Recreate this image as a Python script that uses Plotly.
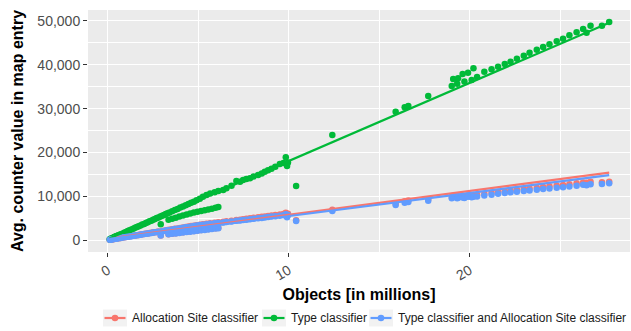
import plotly.graph_objects as go

# ---------------- data ----------------
type_x = [0.10, 0.12, 0.15, 0.18, 0.20, 0.25, 0.30, 0.35, 0.40, 0.45, 0.50, 0.55, 0.60, 0.70, 0.80,
          0.90, 1.00, 1.10, 1.20, 1.30, 1.40, 1.50, 1.60, 1.70, 1.80, 1.90, 2.00, 2.10, 2.20,
          2.30, 2.40, 2.50, 2.60, 2.70, 2.80, 2.90, 2.92, 3.00, 3.10, 3.20, 3.30, 3.40, 3.55,
          3.70, 3.85, 4.00, 4.15, 4.30, 4.45, 4.60, 4.75, 4.90, 5.08, 5.25, 5.45, 5.65, 5.90,
          6.10, 6.37, 6.55, 6.83, 7.10, 7.30, 7.47, 7.65, 7.85, 8.05, 8.30, 8.50, 8.67, 8.85,
          9.04, 9.25, 9.50, 9.70, 9.83, 9.90, 9.95, 10.40, 12.40, 15.90, 16.40, 16.60, 17.70,
          19.00, 19.08, 19.30, 19.35, 19.60, 19.70, 19.90, 20.10, 20.20, 20.40, 20.80, 21.20,
          21.56, 21.93, 22.25, 22.60, 22.98, 23.30, 23.70, 24.05, 24.40, 24.80, 25.15, 25.50,
          25.90, 26.26, 26.45, 26.67, 27.30, 27.70,
          3.35, 3.55, 3.75, 3.95, 4.15, 4.35, 4.55, 4.75, 4.95, 5.15, 5.35, 5.55, 5.75, 5.95, 6.10]
type_y = [180, 120, 270, 300, 350, 480, 540, 660, 720, 850, 900, 1020, 1100, 1300, 1450,
          1680, 1820, 2050, 2200, 2420, 2580, 2800, 2950, 3150, 3300, 3520, 3680, 3900, 4050,
          4280, 4400, 4650, 4800, 5000, 5150, 5350, 3600, 5550, 5700, 5920, 6100, 6300, 6550,
          6850, 7100, 7400, 7650, 7950, 8200, 8500, 8750, 9050, 9400, 9900, 10270, 10600, 10880,
          11200, 11400, 11800, 12400, 13470, 13300, 13700, 13900, 14080, 14500, 14840, 15200, 15600, 15900,
          16280, 16700, 17350, 17600, 18880, 16890, 17700, 12330, 23970, 29300, 30300, 30590, 32870,
          35160, 36760, 35700, 36900, 37900, 36200, 38200, 36530, 39200, 37200, 38400, 39000,
          39570, 40180, 40700, 41390, 42080, 42770, 43450, 44060, 44670, 45360, 45950, 46720,
          47410, 48170, 47330, 48930, 48930, 49770,
          4600, 4850, 5100, 5350, 5600, 5850, 6050, 6250, 6450, 6600, 6800, 6950, 7150, 7350, 7550]

alloc_x = [0.10, 0.15, 0.20, 0.25, 0.30, 0.35, 0.40, 0.45, 0.50, 0.60, 0.70, 0.80, 0.90, 1.00,
           1.10, 1.20, 1.30, 1.40, 1.50, 1.60, 1.70, 1.80, 1.90, 2.00, 2.10, 2.20, 2.30, 2.40,
           2.50, 2.60, 2.70, 2.80, 2.92, 3.00, 3.10, 3.20, 3.30, 3.40, 3.55, 3.70, 3.85, 4.00,
           4.15, 4.30, 4.45, 4.60, 4.75, 4.90, 5.08, 5.25, 5.45, 5.65, 5.90, 6.10, 6.37, 6.55,
           6.83, 7.10, 7.30, 7.47, 7.65, 7.85, 8.05, 8.30, 8.50, 8.67, 8.85, 9.04, 9.25, 9.50,
           9.70, 9.83, 9.90, 9.95, 10.40, 12.40, 15.90, 16.40, 16.60, 17.70, 19.00, 19.08, 19.30,
           19.35, 19.60, 19.70, 19.90, 20.10, 20.20, 20.40, 20.80, 21.20, 21.56, 21.93, 22.25,
           22.60, 22.98, 23.30, 23.70, 24.05, 24.40, 24.80, 25.15, 25.50, 25.90, 26.26, 26.45,
           26.67, 27.30, 27.70,
           3.35, 3.55, 3.75, 3.95, 4.15, 4.35, 4.55, 4.75, 4.95, 5.15, 5.35, 5.55, 5.75, 5.95, 6.10]
both_y = [60, 90, 140, 170, 210, 240, 280, 300, 350, 420, 480, 550, 620, 680,
          750, 820, 880, 950, 1020, 1090, 1150, 1220, 1290, 1350, 1420, 1490, 1550, 1620,
          1690, 1750, 1820, 1890, 1000, 2020, 2080, 2150, 2220, 2290, 2390, 2490, 2590, 2690,
          2790, 2890, 2990, 3090, 3190, 3290, 3400, 3500, 3600, 3700, 3800, 3900, 4000, 4100,
          4250, 4400, 4450, 4550, 4650, 4750, 4850, 4950, 5050, 5150, 5250, 5350, 5450, 5550,
          5650, 5900, 5180, 5700, 4340, 6620, 7990, 8520, 8680, 8980, 9510, 9740, 9550,
          9620, 9700, 9600, 9850, 9780, 9900, 9950, 10150, 10350, 10550, 10720, 10880,
          11030, 11180, 11300, 11460, 11620, 11750, 11920, 12060, 12200, 12400, 12600, 12500,
          12720, 12790, 12940,
          1300, 1400, 1500, 1600, 1700, 1800, 1900, 2000, 2100, 2200, 2300, 2400, 2500, 2600, 2700]
alloc_y = [60, 90, 140, 170, 210, 240, 280, 300, 350, 420, 480, 550, 620, 690,
           760, 830, 890, 960, 1030, 1100, 1160, 1230, 1300, 1370, 1440, 1510, 1570, 1640,
           1710, 1780, 1850, 1920, 1020, 2060, 2120, 2190, 2260, 2340, 2440, 2540, 2640, 2750,
           2850, 2960, 3060, 3170, 3270, 3380, 3500, 3600, 3720, 3830, 3940, 4040, 4160, 4270,
           4420, 4580, 4640, 4750, 4850, 4960, 5070, 5180, 5290, 5390, 5500, 5610, 5720, 5830,
           5940, 6240, 5420, 6000, 4520, 6900, 8300, 8850, 9020, 9330, 9850, 10080, 9900,
           9970, 10060, 9960, 10220, 10150, 10280, 10340, 10550, 10760, 10970, 11150, 11320,
           11480, 11640, 11770, 11940, 12110, 12250, 12430, 12580, 12730, 12940, 13150, 13050,
           13280, 13200, 13300,
           1340, 1440, 1550, 1650, 1760, 1860, 1970, 2070, 2180, 2280, 2390, 2490, 2600, 2700, 2810]

# linear-fit lines (start / end values)
fit_x = [0.10, 27.70]
alloc_fit = [400, 15400]
type_fit = [380, 49600]
both_fit = [250, 14800]

names = ["Allocation Site classifier", "Type classifier",
         "Type classifier and Allocation Site classifier"]
colors = ["#F8766D", "#00BA38", "#619CFF"]

# ---------------- figure ----------------
W, H = 631, 331
ML, MR, MT, MB = 88, 1, 10, 79
PW, PH = W - ML - MR, H - MT - MB


def px2paper_x(px):
    return (px - ML) / PW


def px2paper_y(py):
    return (H - MB - py) / PH


fig = go.Figure()
pts = [(alloc_x, alloc_y), (type_x, type_y), (alloc_x, both_y)]
fits = [alloc_fit, type_fit, both_fit]
for (xs, ys), c in zip(pts, colors):
    fig.add_trace(go.Scatter(x=xs, y=ys, mode="markers", showlegend=False,
                             marker=dict(color=c, size=6.5, line=dict(width=0)),
                             hoverinfo="skip"))
for fy, c in zip(fits, colors):
    fig.add_trace(go.Scatter(x=fit_x, y=fy, mode="lines", showlegend=False,
                             line=dict(color=c, width=2.2), hoverinfo="skip"))

# legend drawn as keys + text (ggplot style, one row below the x title)
key_left = [103, 262, 369]
key_w, key_h, leg_y = 24, 17, 318
shapes, annos = [], []
for kx, n, c in zip(key_left, names, colors):
    x0, x1 = px2paper_x(kx), px2paper_x(kx + key_w)
    y0, y1 = px2paper_y(leg_y + key_h / 2), px2paper_y(leg_y - key_h / 2)
    ym = px2paper_y(leg_y)
    shapes.append(dict(type="rect", xref="paper", yref="paper", x0=x0, x1=x1, y0=y0, y1=y1,
                       fillcolor="#F2F2F2", line=dict(width=0), layer="below"))
    shapes.append(dict(type="line", xref="paper", yref="paper", x0=x0 + 1.5 / PW, x1=x1 - 1.5 / PW,
                       y0=ym, y1=ym, line=dict(color=c, width=2.2)))
    shapes.append(dict(type="circle", xref="paper", yref="paper",
                       xsizemode="pixel", ysizemode="pixel",
                       xanchor=(x0 + x1) / 2, yanchor=ym, x0=-3.3, x1=3.3, y0=-3.3, y1=3.3,
                       fillcolor=c, line=dict(width=0)))
    annos.append(dict(text=n, xref="paper", yref="paper", x=px2paper_x(kx + key_w + 3), y=ym,
                      xanchor="left", yanchor="middle", showarrow=False,
                      font=dict(size=12, color="#1A1A1A")))

axis_common = dict(showgrid=True, gridcolor="white", gridwidth=1.1, zeroline=False,
                   showline=False, ticks="outside", ticklen=4, tickcolor="#333333",
                   tickwidth=1.1, automargin=False,
                   tickfont=dict(family="Liberation Sans, Arial, sans-serif", size=14,
                                 color="#4D4D4D"))

fig.update_layout(
    width=W, height=H,
    margin=dict(l=ML, r=MR, t=MT, b=MB),
    paper_bgcolor="white", plot_bgcolor="#EBEBEB",
    font=dict(family="Liberation Sans, Arial, sans-serif", color="#000000"),
    xaxis=dict(range=[-1.1, 28.85], tickmode="array", tickvals=[0, 10, 20],
               ticktext=["0", "10", "20"], tickangle=-30,
               minor=dict(tickmode="array", tickvals=[5, 15, 25], showgrid=True,
                          gridcolor="white", gridwidth=0.55, ticks=""),
               title=dict(text="<b>Objects [in millions]</b>", standoff=6,
                          font=dict(size=16, color="#000000")),
               **axis_common),
    yaxis=dict(range=[-2740, 52510], tickmode="array",
               tickvals=[0, 10000, 20000, 30000, 40000, 50000],
               ticktext=["0", "10,000", "20,000", "30,000", "40,000", "50,000"],
               minor=dict(tickmode="array", tickvals=[5000, 15000, 25000, 35000, 45000],
                          showgrid=True, gridcolor="white", gridwidth=0.55, ticks=""),
               title=dict(text="<b>Avg. counter value in map entry</b>", standoff=9,
                          font=dict(size=16, color="#000000")),
               **axis_common),
    shapes=shapes, annotations=annos,
    showlegend=False,
)

fig.write_html("out.html", config={"displayModeBar": False},
               post_script="document.body.style.margin='0px';document.body.style.overflow='hidden';")
